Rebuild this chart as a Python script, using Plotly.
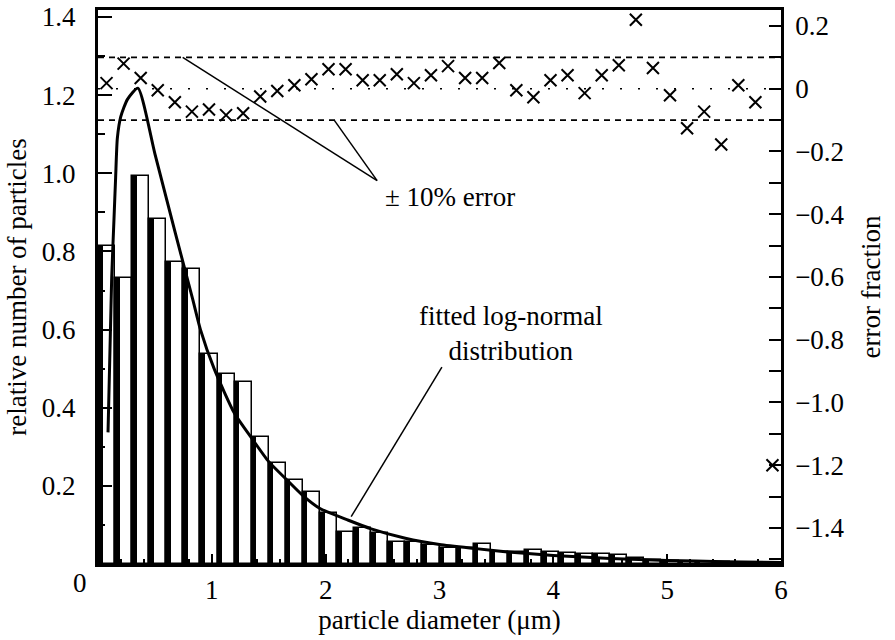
import plotly.graph_objects as go

# ---- data ----
bin_width = 0.15
bin_left = [round(i * bin_width, 2) for i in range(40)]
bin_center = [round(b + bin_width / 2, 3) for b in bin_left]

counts = [0.815, 0.733, 0.992, 0.882, 0.774, 0.756, 0.537, 0.487, 0.465, 0.325,
          0.258, 0.214, 0.185, 0.130, 0.082, 0.093, 0.080, 0.057, 0.057, 0.049,
          0.042, 0.040, 0.050, 0.030, 0.032, 0.036, 0.030, 0.028, 0.025, 0.026,
          0.024, 0.015, 0.010, 0.008, 0.006, 0.005, 0.004, 0.003, 0.003, 0.002]

error_frac = [0.018, 0.080, 0.034, -0.005, -0.043, -0.073, -0.066, -0.084, -0.078, -0.025,
              -0.007, 0.011, 0.030, 0.062, 0.062, 0.027, 0.027, 0.046, 0.018, 0.043,
              0.072, 0.034, 0.034, 0.082, -0.005, -0.027, 0.027, 0.043, -0.014, 0.043,
              0.075, 0.220, 0.066, -0.021, -0.126, -0.073, -0.178, 0.011, -0.043, -1.200]

fit_x = [0.088, 0.12, 0.14, 0.155, 0.17, 0.2, 0.26, 0.35, 0.5, 0.68, 0.83, 0.9, 1.02,
         1.2, 1.36, 1.5, 1.66, 1.8, 1.95, 2.2, 2.4, 2.7, 3.0, 3.3, 3.6, 4.0, 4.5, 5.0,
         5.5, 6.0]
fit_y = [0.337, 0.73, 0.88, 0.99, 1.09, 1.145, 1.19, 1.218, 1.05, 0.846, 0.68, 0.6, 0.5,
         0.385, 0.318, 0.262, 0.215, 0.175, 0.142, 0.112, 0.09, 0.066, 0.05, 0.04, 0.031,
         0.022, 0.014, 0.009, 0.006, 0.004]

error_band = [0.1, -0.1]
zero_line = 0.0

x_ticks = [1, 2, 3, 4, 5, 6]
y_ticks = [0.2, 0.4, 0.6, 0.8, 1.0, 1.2, 1.4]
y_ticktext = ["0.2", "0.4", "0.6", "0.8", "1.0", "1.2", "1.4"]
y2_ticks = [0.2, 0.0, -0.2, -0.4, -0.6, -0.8, -1.0, -1.2, -1.4]
y2_ticktext = ["0.2", "0", "−0.2", "−0.4", "−0.6", "−0.8", "−1.0", "−1.2", "−1.4"]

# annotation anchor points (data coordinates)
err_label_pt = (2.452, -0.293)
err_line_starts = [(0.744, 0.1), (2.075, -0.1)]
fit_label_start = (3.021, 0.504)
fit_label_end = (2.224, 0.121)

FONT = "Liberation Serif"
FS = 27

fig = go.Figure()

fig.add_trace(go.Bar(
    x=bin_left, y=counts, width=bin_width, offset=0,
    marker=dict(color="white", line=dict(color="black", width=1.5)),
    showlegend=False))
fig.add_trace(go.Bar(
    x=bin_left, y=counts, width=0.04, offset=0,
    marker=dict(color="black", line=dict(color="black", width=0)),
    showlegend=False))
fig.add_trace(go.Scatter(
    x=fit_x, y=fit_y, mode="lines",
    line=dict(color="black", width=3, shape="spline", smoothing=0.6),
    showlegend=False))
fig.add_trace(go.Scatter(
    x=bin_center, y=error_frac, mode="markers", yaxis="y2",
    marker=dict(symbol="x-thin", size=12, color="black",
                line=dict(color="black", width=2)),
    showlegend=False))

shapes = []
for v in error_band:
    shapes.append(dict(type="line", xref="x", yref="y2", x0=0, x1=6, y0=v, y1=v,
                       line=dict(color="black", width=1.6, dash="6px,5px")))
shapes.append(dict(type="line", xref="x", yref="y2", x0=0, x1=6, y0=zero_line, y1=zero_line,
                   line=dict(color="black", width=1.6, dash="2px,16px")))
for (sx, sy) in err_line_starts:
    shapes.append(dict(type="line", xref="x", yref="y2", x0=sx, y0=sy,
                       x1=err_label_pt[0], y1=err_label_pt[1],
                       line=dict(color="black", width=1.5)))
shapes.append(dict(type="line", xref="x", yref="y", x0=fit_label_start[0], y0=fit_label_start[1],
                   x1=fit_label_end[0], y1=fit_label_end[1],
                   line=dict(color="black", width=1.5)))

annotations = [
    dict(text="± 10% error", xref="x", yref="y2", x=2.5, y=-0.344,
         xanchor="left", yanchor="middle", showarrow=False,
         font=dict(family=FONT, size=FS, color="black")),
    dict(text="fitted log-normal<br>distribution", xref="x", yref="y", x=3.63, y=0.59,
         xanchor="center", yanchor="middle", showarrow=False,
         font=dict(family=FONT, size=FS, color="black")),
    dict(text="0", xref="paper", yref="paper", x=-0.026, y=-0.034,
         xanchor="center", yanchor="middle", showarrow=False,
         font=dict(family=FONT, size=FS, color="black")),
]

fig.update_layout(
    width=895, height=640,
    margin=dict(l=98, r=114, t=10, b=76, autoexpand=False),
    paper_bgcolor="white", plot_bgcolor="white",
    barmode="overlay", bargap=0,
    font=dict(family=FONT, size=FS, color="black"),
    shapes=shapes, annotations=annotations,
    xaxis=dict(range=[0, 6], tickvals=x_ticks, ticks="inside", ticklen=10, tickwidth=2,
               tickcolor="black", showline=True, linewidth=3, linecolor="black", mirror=True,
               showgrid=False, zeroline=False, automargin=False,
               minor=dict(dtick=0.2, ticks="inside", ticklen=5, tickwidth=1.5, tickcolor="black"),
               title=dict(text="particle diameter (μm)", standoff=6,
                          font=dict(family=FONT, size=FS))),
    yaxis=dict(range=[0, 1.418], tickvals=y_ticks, ticktext=y_ticktext, ticks="inside",
               ticklen=14, tickwidth=2, tickcolor="black", showline=True, linewidth=3,
               linecolor="black", showgrid=False, zeroline=False, ticklabelstandoff=14,
               automargin=False,
               minor=dict(dtick=0.1, ticks="inside", ticklen=7, tickwidth=1.5, tickcolor="black"),
               title=dict(text="relative number of particles", standoff=8,
                          font=dict(family=FONT, size=FS))),
    yaxis2=dict(range=[-1.515, 0.251], tickvals=y2_ticks, ticktext=y2_ticktext, overlaying="y",
                side="right", ticks="inside", ticklen=12, tickwidth=2, tickcolor="black",
                showline=True, linewidth=2.5, linecolor="black", showgrid=False, zeroline=False,
                ticklabelstandoff=6, automargin=False,
                minor=dict(dtick=0.1, ticks="inside", ticklen=12, tickwidth=1.5, tickcolor="black"),
                title=dict(text="error fraction", standoff=18,
                           font=dict(family=FONT, size=FS))),
)

fig.write_html("out.html")
